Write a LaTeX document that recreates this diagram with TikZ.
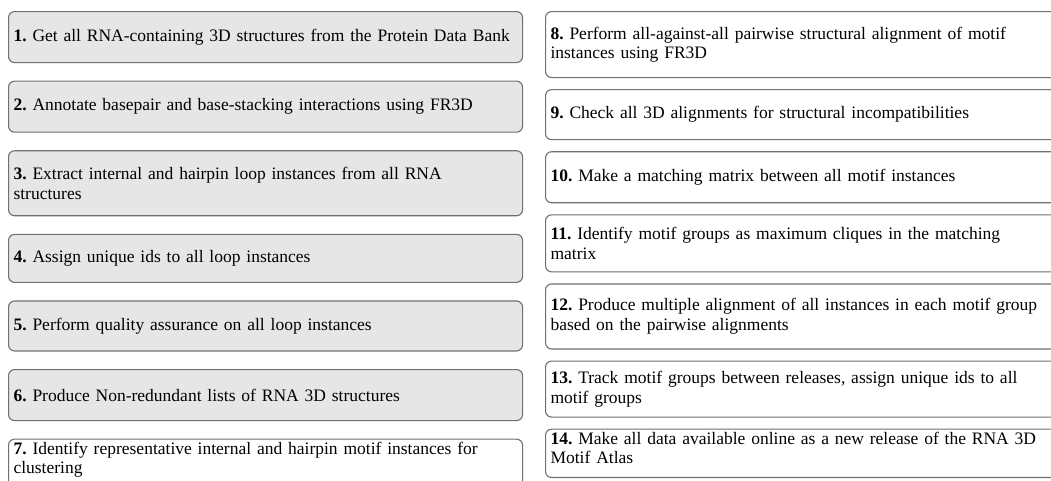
\documentclass[tikz,border=0pt]{standalone}
\usepackage{fontspec}
\setmainfont{Liberation Serif}
\definecolor{prepgray}{RGB}{230,230,230}
\definecolor{edgegray}{RGB}{112,112,112}
\usetikzlibrary{positioning}
\tikzset{
  prepstep/.style={rectangle, rounded corners=6pt, draw=edgegray, fill=prepgray, line width=1.1pt, text width=504pt, align=left, inner xsep=5pt, inner ysep=3pt, font=\fontsize{17.5pt}{19.5pt}\selectfont\frenchspacing},
  clusterstep/.style={prepstep, fill=white, text width=540pt},
  openstep/.style={text depth=30pt}
}

\begin{document}
\begin{tikzpicture}[node distance=17.5pt]
  \useasboundingbox (0,0) rectangle (1051pt,-480pt);

  % Left column: data preparation
  \node (s1) [prepstep, minimum height=51pt, anchor=north west] at (8pt,-11pt) {\textbf{1.} Get all RNA-containing 3D structures from the Protein Data Bank};
  \node (s2) [prepstep, minimum height=51pt, below=of s1] {\textbf{2.} Annotate basepair and base-stacking interactions using FR3D};
  \node (s3) [prepstep, minimum height=65pt, below=of s2] {\textbf{3.} Extract internal and hairpin loop instances from all RNA\\structures};
  \node (s4) [prepstep, minimum height=48pt, below=of s3] {\textbf{4.} Assign unique ids to all loop instances};
  \node (s5) [prepstep, minimum height=50pt, below=of s4] {\textbf{5.} Perform quality assurance on all loop instances};
  \node (s6) [prepstep, minimum height=51pt, below=of s5] {\textbf{6.} Produce Non-redundant lists of RNA 3D structures};
  \node (s7) [prepstep, fill=white, openstep, below=of s6] {\textbf{7.} Identify representative internal and hairpin motif instances for\\clustering};

  % Right column: clustering
  \node (s8) [clusterstep, minimum height=66pt, anchor=north west] at (545pt,-11pt) {\textbf{8.} Perform all-against-all pairwise structural alignment of motif\\instances using FR3D};
  \node (s9) [clusterstep, minimum height=50pt, below=11pt of s8] {\textbf{9.} Check all 3D alignments for structural incompatibilities};
  \node (s10) [clusterstep, minimum height=51pt, below=11pt of s9] {\textbf{10.} Make a matching matrix between all motif instances};
  \node (s11) [clusterstep, minimum height=57pt, below=11pt of s10] {\textbf{11.} Identify motif groups as maximum cliques in the matching\\matrix};
  \node (s12) [clusterstep, minimum height=65pt, below=11pt of s11] {\textbf{12.} Produce multiple alignment of all instances in each motif group\\based on the pairwise alignments};
  \node (s13) [clusterstep, minimum height=56pt, below=11pt of s12] {\textbf{13.} Track motif groups between releases, assign unique ids to all\\motif groups};
  \node (s14) [clusterstep, openstep, below=11pt of s13] {\textbf{14.} Make all data available online as a new release of the RNA 3D\\Motif Atlas};
\end{tikzpicture}
\end{document}
